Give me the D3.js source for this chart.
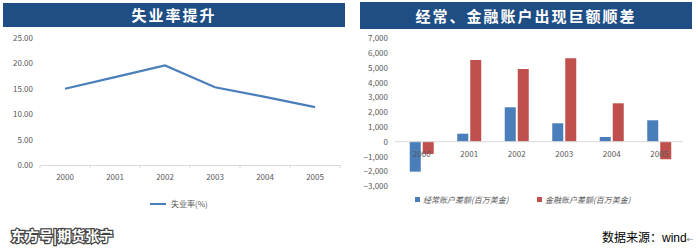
<!DOCTYPE html>
<html>
<head>
<meta charset="utf-8">
<script src="https://cdn.jsdelivr.net/npm/d3@7"></script>
<style>
body { margin: 0; background: #fff; }
text { font-family: "Noto Sans CJK SC", "DejaVu Sans", sans-serif; }
</style>
</head>
<body>
<svg id="chart" width="698" height="250"></svg>
<script>
// data
var years = ["2000", "2001", "2002", "2003", "2004", "2005"];
var unemployment = [15.0, 17.3, 19.6, 15.3, 13.4, 11.4];
var leftTicks = [0, 5, 10, 15, 20, 25];

var currentAcct = [-2030, 540, 2330, 1245, 320, 1450];
var financialAcct = [-830, 5530, 4920, 5650, 2600, -1190];
var rightTicks = [-3000, -2000, -1000, 0, 1000, 2000, 3000, 4000, 5000, 6000, 7000];

var blue = "#4a7ebb";
var red = "#c0504d";
var navy = "#1f4e85";
var grey = "#595959";

var svg = d3.select("#chart");

// ---- left panel: line chart
svg.append("rect").attr("x", 3).attr("y", 3).attr("width", 342).attr("height", 24).attr("fill", navy);
svg.append("text").attr("x", 174).attr("y", 21).attr("text-anchor", "middle")
    .attr("fill", "#fff").attr("font-size", 15).attr("font-weight", "bold")
    .attr("letter-spacing", 2).text("失业率提升");

var xL = d3.scaleBand().domain(years).range([40, 340]);
var yL = d3.scaleLinear().domain([0, 25]).range([165, 38]);

var axL = svg.append("g").attr("transform", "translate(0,165)")
    .call(d3.axisBottom(xL).tickSize(0).tickPadding(9));
axL.select(".domain").attr("stroke", "#d9d9d9");
axL.selectAll("text").attr("fill", grey).attr("font-size", 8).attr("font-family", "Lato, sans-serif");
// category boundary ticks
svg.append("g").selectAll("line").data(d3.range(years.length + 1)).enter().append("line")
    .attr("x1", i => 40 + i * xL.step()).attr("x2", i => 40 + i * xL.step())
    .attr("y1", 165).attr("y2", 168).attr("stroke", "#d9d9d9");

var ayL = svg.append("g").attr("transform", "translate(36,0)")
    .call(d3.axisLeft(yL).tickValues(leftTicks).tickSize(0).tickFormat(d3.format(".2f")));
ayL.select(".domain").remove();
ayL.selectAll("text").attr("fill", grey).attr("font-size", 8).attr("font-family", "Lato, sans-serif");

var line = d3.line().x((d, i) => xL(years[i]) + xL.bandwidth() / 2).y(d => yL(d));
svg.append("path").datum(unemployment).attr("d", line)
    .attr("fill", "none").attr("stroke", blue).attr("stroke-width", 2.2);

svg.append("line").attr("x1", 150).attr("x2", 166).attr("y1", 204).attr("y2", 204)
    .attr("stroke", blue).attr("stroke-width", 2);
svg.append("text").attr("x", 171).attr("y", 207).attr("fill", grey).attr("font-size", 8)
    .text("失业率(%)");

// watermark
svg.append("text").attr("x", 11).attr("y", 241).attr("font-size", 14).attr("font-weight", "bold")
    .attr("fill", "#fff").attr("stroke", "#444").attr("stroke-width", 2.5).attr("paint-order", "stroke")
    .text("东方号|期货张宁");

// ---- right panel: bar chart
svg.append("rect").attr("x", 360).attr("y", 2).attr("width", 332).attr("height", 27).attr("fill", navy);
svg.append("text").attr("x", 526).attr("y", 22).attr("text-anchor", "middle")
    .attr("fill", "#fff").attr("font-size", 15).attr("font-weight", "bold")
    .attr("letter-spacing", 2).text("经常、金融账户出现巨额顺差");

var xR = d3.scaleBand().domain(years).range([398, 683]);
var yR = d3.scaleLinear().domain([-3000, 7000]).range([186, 38.3]);
var barW = 11;

var ayR = svg.append("g").attr("transform", "translate(391,0)")
    .call(d3.axisLeft(yR).tickValues(rightTicks).tickSize(0).tickFormat(d3.format(",")));
ayR.select(".domain").remove();
ayR.selectAll("text").attr("fill", grey).attr("font-size", 8).attr("font-family", "Lato, sans-serif");

svg.append("g").selectAll("rect").data(currentAcct).enter().append("rect")
    .attr("x", (d, i) => xR(years[i]) + xR.bandwidth() / 2 - barW - 1)
    .attr("y", d => yR(Math.max(0, d)))
    .attr("width", barW)
    .attr("height", d => Math.abs(yR(d) - yR(0)))
    .attr("fill", blue);

svg.append("g").selectAll("rect").data(financialAcct).enter().append("rect")
    .attr("x", (d, i) => xR(years[i]) + xR.bandwidth() / 2 + 1)
    .attr("y", d => yR(Math.max(0, d)))
    .attr("width", barW)
    .attr("height", d => Math.abs(yR(d) - yR(0)))
    .attr("fill", red);

svg.append("line").attr("x1", 395).attr("x2", 683).attr("y1", yR(0)).attr("y2", yR(0))
    .attr("stroke", "#d9d9d9");

svg.append("g").selectAll("text").data(years).enter().append("text")
    .attr("x", d => xR(d) + xR.bandwidth() / 2).attr("y", yR(0) + 15)
    .attr("text-anchor", "middle").attr("fill", grey).attr("font-size", 8)
    .attr("font-family", "Lato, sans-serif").text(d => d);

// legend
var legR = [["经常账户差额(百万美金)", blue, 415], ["金融账户差额(百万美金)", red, 537]];
legR.forEach(function (l) {
    svg.append("rect").attr("x", l[2]).attr("y", 197).attr("width", 5).attr("height", 5).attr("fill", l[1]);
    svg.append("text").attr("x", l[2] + 8).attr("y", 203).attr("fill", grey).attr("font-size", 8)
        .attr("font-style", "italic").text(l[0]);
});

var src = svg.append("text").attr("x", 602).attr("y", 242).attr("fill", "#000").attr("font-size", 12);
src.append("tspan").text("数据来源：");
src.append("tspan").attr("font-family", "Liberation Sans, sans-serif").attr("font-size", 12).text("wind");
src.append("tspan").attr("font-family", "DejaVu Sans, sans-serif").attr("font-size", 8).attr("fill", "#777").text("←");
</script>
</body>
</html>
